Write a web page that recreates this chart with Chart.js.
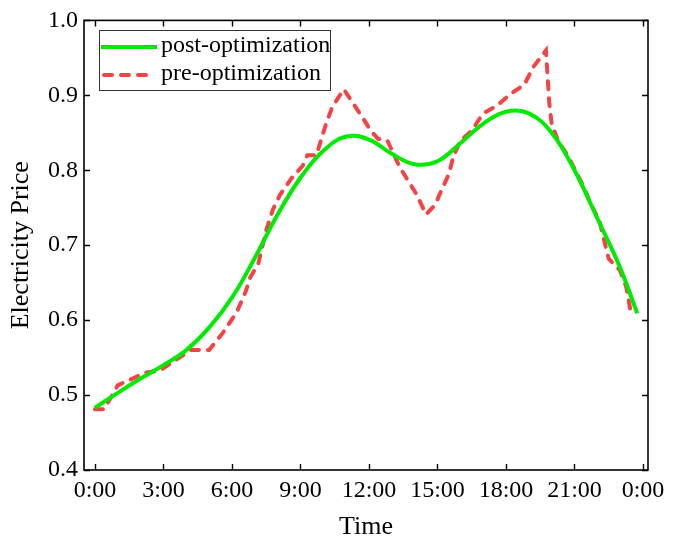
<!DOCTYPE html>
<html><head><meta charset="utf-8">
<script src="https://cdn.jsdelivr.net/npm/chart.js@4.4.1/dist/chart.umd.min.js"></script>
<style>html,body{margin:0;padding:0;background:#fff;}#wrap{width:673px;height:545px;position:relative;}</style>
</head><body><div id="wrap"><canvas id="c" width="673" height="545"></canvas></div>
<script>
// ---- data ----
const seriesNames = ['post-optimization', 'pre-optimization'];
const xTickHours = [0, 3, 6, 9, 12, 15, 18, 21, 24];
const yTickValues = [0.4, 0.5, 0.6, 0.7, 0.8, 0.9, 1.0];

const postHours = [0, 1, 2, 3, 4, 5, 6, 7, 8, 9, 10, 11, 12, 13, 14, 15, 16, 17, 18, 19, 20, 21, 22, 23, 23.75];
const postPrice = [0.483, 0.503, 0.522, 0.540, 0.560, 0.590, 0.630, 0.683, 0.741, 0.790, 0.826, 0.845, 0.841, 0.822, 0.808, 0.812, 0.836, 0.862, 0.878, 0.876, 0.850, 0.800, 0.736, 0.670, 0.609];

const preHours = [0, 0.4, 1.0, 2.2, 2.8, 3.5, 4.2, 5.0, 5.6, 6.2, 6.6, 6.8, 7.15, 7.5, 7.8, 8.1, 8.6, 9.1, 9.3, 9.7, 10.1, 10.4, 10.9, 11.2, 11.6, 12.1, 12.4, 12.8, 13.35, 14.1, 14.5, 14.9, 15.2, 15.5, 15.7, 16.0, 16.5, 17.0, 17.6, 18.2, 18.8, 19.2, 19.75, 19.9, 20.0, 20.3, 20.7, 21.0, 21.4, 21.7, 22.1, 22.35, 22.5, 23.0, 23.27, 23.45];
const prePrice = [0.481, 0.481, 0.513, 0.530, 0.532, 0.546, 0.560, 0.560, 0.583, 0.610, 0.638, 0.657, 0.675, 0.720, 0.748, 0.767, 0.789, 0.806, 0.820, 0.820, 0.860, 0.885, 0.908, 0.894, 0.876, 0.852, 0.842, 0.840, 0.804, 0.767, 0.741, 0.754, 0.775, 0.795, 0.819, 0.839, 0.853, 0.876, 0.886, 0.902, 0.914, 0.938, 0.960, 0.889, 0.862, 0.838, 0.820, 0.802, 0.778, 0.756, 0.732, 0.700, 0.682, 0.666, 0.644, 0.613];

// ---- styles ----
const FONT = "'Liberation Serif', 'Times New Roman', serif";
const GREEN = 'rgb(0,235,0)';
const RED = 'rgb(242,68,68)';

const toPts = (xs, ys) => xs.map((x, i) => ({ x: x, y: ys[i] }));

const framePlugin = {
  id: 'frame',
  afterDraw(chart) {
    const { ctx, chartArea: a, scales } = chart;
    ctx.save();
    ctx.strokeStyle = '#000';
    ctx.lineWidth = 1.6;
    ctx.strokeRect(a.left, a.top, a.right - a.left, a.bottom - a.top);
    ctx.lineWidth = 1.4;
    const tl = 6;
    xTickHours.forEach(h => {
      const px = Math.round(scales.x.getPixelForValue(h)) + 0.5;
      ctx.beginPath();
      ctx.moveTo(px, a.bottom); ctx.lineTo(px, a.bottom - tl);
      ctx.moveTo(px, a.top); ctx.lineTo(px, a.top + tl);
      ctx.stroke();
    });
    yTickValues.forEach(v => {
      const py = Math.round(scales.y.getPixelForValue(v)) + 0.5;
      ctx.beginPath();
      ctx.moveTo(a.left, py); ctx.lineTo(a.left + tl, py);
      ctx.moveTo(a.right, py); ctx.lineTo(a.right - tl, py);
      ctx.stroke();
    });
    // legend
    const lx = 99.5, ly = 30.5, lw = 231, lh = 60;
    ctx.lineWidth = 1;
    ctx.strokeStyle = '#333';
    ctx.fillStyle = '#fff';
    ctx.fillRect(lx, ly, lw, lh);
    ctx.strokeRect(lx, ly, lw, lh);
    const dsets = chart.data.datasets;
    const rows = [47, 75];
    dsets.forEach((ds, i) => {
      ctx.save();
      ctx.strokeStyle = ds.borderColor;
      ctx.lineWidth = ds.borderWidth;
      ctx.lineCap = ds.borderCapStyle || 'butt';
      ctx.setLineDash(ds.borderDash || []);
      ctx.beginPath();
      ctx.moveTo(i === 0 ? 101 : 104, rows[i]);
      ctx.lineTo(i === 0 ? 157 : 148, rows[i]);
      ctx.stroke();
      ctx.restore();
      ctx.fillStyle = '#000';
      ctx.font = '24px ' + FONT;
      ctx.textBaseline = 'middle';
      ctx.textAlign = 'left';
      ctx.fillText(ds.label, 161, rows[i] - 1);
    });
    ctx.restore();
  }
};

new Chart(document.getElementById('c'), {
  type: 'line',
  data: {
    datasets: [
      {
        label: seriesNames[0],
        data: toPts(postHours, postPrice),
        borderColor: GREEN,
        backgroundColor: GREEN,
        borderWidth: 4,
        pointRadius: 0,
        tension: 0.4,
        fill: false
      },
      {
        label: seriesNames[1],
        data: toPts(preHours, prePrice),
        borderColor: RED,
        backgroundColor: RED,
        borderWidth: 4,
        borderDash: [8, 9],
        borderCapStyle: 'round',
        pointRadius: 0,
        tension: 0,
        fill: false
      }
    ]
  },
  options: {
    responsive: false,
    animation: false,
    devicePixelRatio: 1,
    layout: { padding: { left: 0, right: 25, top: 16, bottom: 0 } },
    plugins: { legend: { display: false }, tooltip: { enabled: false } },
    scales: {
      x: {
        type: 'linear',
        min: -0.48,
        max: 24.22,
        afterBuildTicks: s => { s.ticks = xTickHours.map(v => ({ value: v })); },
        afterFit: s => { s.height = 75; },
        grid: { display: false, drawTicks: false },
        border: { display: false },
        ticks: {
          autoSkip: false, maxRotation: 0, padding: 6, color: '#000',
          font: { family: FONT, size: 24 },
          callback: v => (v % 24) + ':00'
        },
        title: { display: true, text: 'Time', color: '#000', font: { family: FONT, size: 26 }, padding: { top: 0, bottom: 2 } }
      },
      y: {
        min: 0.4,
        max: 1.0,
        afterBuildTicks: s => { s.ticks = yTickValues.map(v => ({ value: v })); },
        afterFit: s => { s.width = 84; },
        grid: { display: false, drawTicks: false },
        border: { display: false },
        ticks: {
          padding: 6, color: '#000',
          font: { family: FONT, size: 24 },
          callback: v => Number(v).toFixed(1)
        },
        title: { display: true, text: 'Electricity Price', color: '#000', font: { family: FONT, size: 26 }, padding: { top: 6, bottom: 0 } }
      }
    }
  },
  plugins: [framePlugin]
});
</script>
</body></html>
